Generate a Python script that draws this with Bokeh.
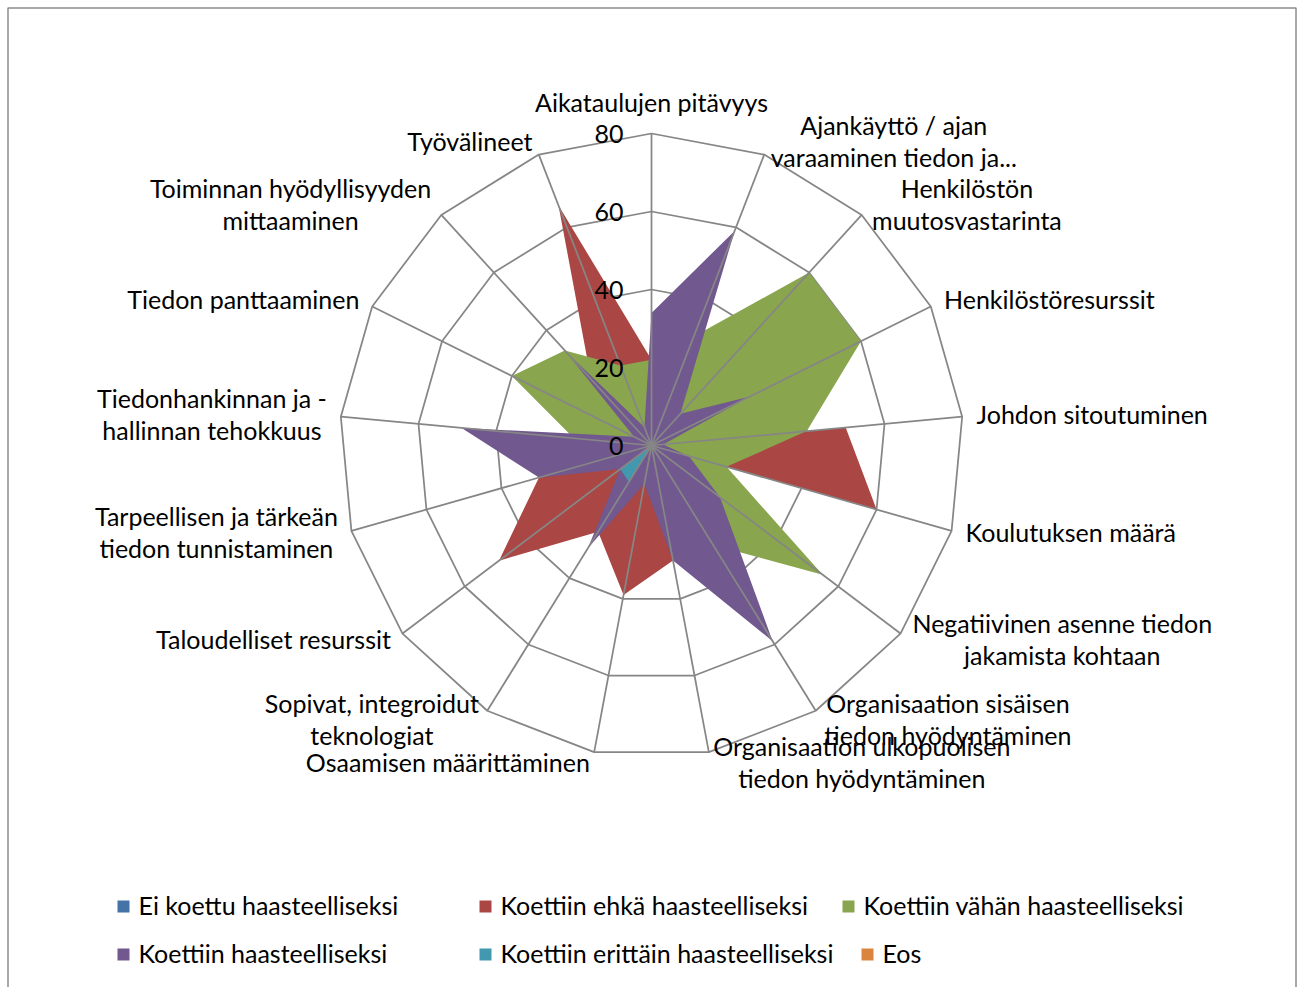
import math
from bokeh.plotting import figure
from bokeh.models import Range1d
from bokeh.embed import file_html
from bokeh.resources import INLINE
from bokeh.core.properties import value

# ---------------- data ----------------
categories = [
    "Aikataulujen pitävyys",
    "Ajankäyttö / ajan\nvaraaminen tiedon ja...",
    "Henkilöstön\nmuutosvastarinta",
    "Henkilöstöresurssit",
    "Johdon sitoutuminen",
    "Koulutuksen määrä",
    "Negatiivinen asenne tiedon\njakamista kohtaan",
    "Organisaation sisäisen\ntiedon hyödyntäminen",
    "Organisaation ulkopuolisen\ntiedon hyödyntäminen",
    "Osaamisen määrittäminen",
    "Sopivat, integroidut\nteknologiat",
    "Taloudelliset resurssit",
    "Tarpeellisen ja tärkeän\ntiedon tunnistaminen",
    "Tiedonhankinnan ja -\nhallinnan tehokkuus",
    "Tiedon panttaaminen",
    "Toiminnan hyödyllisyyden\nmittaaminen",
    "Työvälineet",
]

series_names = [
    "Ei koettu haasteelliseksi",
    "Koettiin ehkä haasteelliseksi",
    "Koettiin vähän haasteelliseksi",
    "Koettiin haasteelliseksi",
    "Koettiin erittäin haasteelliseksi",
    "Eos",
]
series_colors = ["#4572A7", "#AA4643", "#89A54E", "#71588F", "#4198AF", "#DB843D"]

ei_koettu = [0, 0, 0, 0, 0, 0, 0, 0, 0, 0, 0, 0, 0, 0, 0, 0, 0]
ehka      = [22, 10, 20, 0, 50, 60, 0, 20, 30, 39, 26, 49, 30, 10, 10, 23, 66]
vahan     = [22, 30, 60, 60, 40, 20, 55, 30, 10, 10, 10, 10, 10, 20, 40, 33, 22]
haast     = [34, 59, 11, 28, 3, 10, 22, 59, 30, 10, 31, 10, 30, 49, 5, 33, 5]
erittain  = [0, 0, 0, 0, 0, 0, 0, 0, 0, 0, 11, 10, 0, 0, 0, 0, 0]
eos       = [0, 0, 0, 0, 0, 0, 0, 0, 0, 0, 0, 0, 0, 0, 0, 0, 0]
series_values = [ei_koettu, ehka, vahan, haast, erittain, eos]

ticks = [0, 20, 40, 60, 80]
tick_labels = ["0", "20", "40", "60", "80"]

# ---------------- layout ----------------
W, H = 1303, 987
CX, CY = 651, 445          # centre of the radar in figure pixels
PX = 3.9                   # pixels per value unit
FONT = value("Lato")
FS = "25px"
GRID = "#868686"
RMAX = ticks[-1]

p = figure(width=W, height=H, output_backend="svg", toolbar_location=None,
           x_range=Range1d(-CX / PX, (W - CX) / PX),
           y_range=Range1d(-(H - CY) / PX, CY / PX),
           x_axis_location=None, y_axis_location=None, min_border=0)
p.grid.visible = False
p.outline_line_color = None
p.background_fill_color = "white"
p.border_fill_color = "white"

n = len(categories)
ang = [2 * math.pi * k / n for k in range(n)]
sn = [math.sin(a) for a in ang]
cs = [math.cos(a) for a in ang]

# rings (under the fills)
ring_xs, ring_ys = [], []
for t in ticks[1:]:
    ring_xs.append([t * s for s in sn] + [t * sn[0]])
    ring_ys.append([t * c for c in cs] + [t * cs[0]])
p.multi_line(ring_xs, ring_ys, line_color=GRID, line_width=1.75)

# filled series
pxs, pys = [], []
for vals in series_values:
    pxs.append([v * s for v, s in zip(vals, sn)])
    pys.append([v * c for v, c in zip(vals, cs)])
p.patches(pxs, pys, fill_color=series_colors, line_color=None, fill_alpha=1.0)

# spokes (over the fills)
p.segment(x0=[0] * n, y0=[0] * n, x1=[RMAX * s for s in sn], y1=[RMAX * c for c in cs],
          line_color=GRID, line_width=1.75)

# value axis labels
p.text(x=[-28 / PX] * len(ticks), y=ticks, text=tick_labels, text_align="right",
       text_baseline="middle", text_font=FONT, text_font_size=FS, text_color="black")

# category labels
groups = {"bottom_center": ([], [], []), "center_left": ([], [], []), "center_right": ([], [], [])}
for k in range(n):
    vx, vy = RMAX * sn[k], RMAX * cs[k]
    s, c = sn[k], cs[k]
    if abs(s) < 0.05:
        key = "bottom_center"
        x, y = vx, vy + 17 / PX
    elif s > 0:
        key = "center_left"
        x, y = vx + (2 + 12.5 * s) / PX, vy + (12 * c + 2) / PX
    else:
        key = "center_right"
        x, y = vx - (2 + 12 * abs(s)) / PX, vy + (12 * c + 2) / PX
    groups[key][0].append(x)
    groups[key][1].append(y)
    groups[key][2].append(categories[k])
for key, (gx, gy, gt) in groups.items():
    if gx:
        p.text(x=gx, y=gy, text=gt, anchor=key, text_align="center",
               text_font=FONT, text_font_size=FS, text_color="black",
               text_line_height=1.07)

# legend (3 columns x 2 rows)
leg_rows_y = [906, 954]
leg_cols_x = [[117, 479, 842], [117, 479, 861]]
lx, ly, tx, ty = [], [], [], []
for i in range(len(series_names)):
    r, cidx = divmod(i, 3)
    lx.append((leg_cols_x[r][cidx] + 6 - CX) / PX)
    ly.append((CY - leg_rows_y[r]) / PX)
    tx.append((leg_cols_x[r][cidx] + 21 - CX) / PX)
    ty.append((CY - leg_rows_y[r] + 1.5) / PX)
p.scatter(lx, ly, marker="square", size=12, fill_color=series_colors, line_color=None)
p.text(x=tx, y=ty, text=series_names, text_align="left", text_baseline="middle",
       text_font=FONT, text_font_size=FS, text_color="black")

# chart border (bottom edge lies below the window in the original)
bx0, bx1 = (7.5 - CX) / PX, (1295.5 - CX) / PX
by_top, by_bot = (CY - 7.5) / PX, -(H - CY) / PX - 2
p.line([bx0, bx0, bx1, bx1], [by_bot, by_top, by_top, by_bot], line_color="#8C8C8C", line_width=1.5)

open("out.html", "w").write(file_html(p, INLINE))
